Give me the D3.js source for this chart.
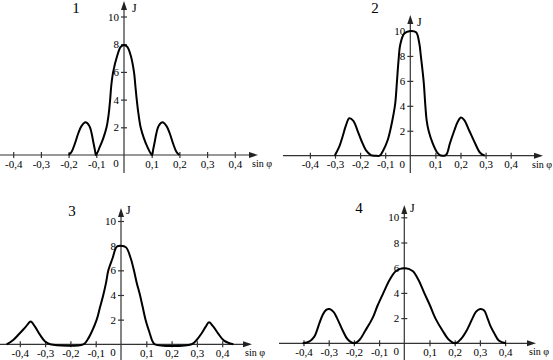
<!DOCTYPE html>
<meta charset="utf-8">
<style>
  body { margin: 0; background: #fff; }
  svg text { font-family: "Liberation Serif", "DejaVu Serif", serif; fill: #000; }
  .curve { fill: none; stroke: #000; stroke-width: 2px; stroke-linejoin: round; }
  .ax { stroke: #333; stroke-width: 1.2px; }
</style>
<body>
<script src="https://cdn.jsdelivr.net/npm/d3@7"></script>
<script>
// tick values shared by all four graphs
var xTicks = [-0.4, -0.3, -0.2, -0.1, 0.1, 0.2, 0.3, 0.4];
var yTicks = [2, 4, 6, 8, 10];
var panelNames = ["1", "2", "3", "4"];

// curve 1
var curve1X = [-0.2, -0.189, -0.177, -0.165, -0.153, -0.139, -0.125, -0.117, -0.111, -0.105, -0.101,
  -0.087, -0.075, -0.063, -0.055, -0.05, -0.046, -0.039, -0.024, -0.012, 0,
  0.012, 0.024, 0.036, 0.041, 0.046, 0.052, 0.06, 0.072, 0.084, 0.101,
  0.105, 0.111, 0.117, 0.125, 0.139, 0.153, 0.165, 0.177, 0.189, 0.2];
var curve1Y = [0, 0.24, 0.84, 1.57, 2.1, 2.36, 2.1, 1.57, 0.96, 0.36, 0,
  0.6, 1.2, 2.0, 3.0, 4.0, 5.0, 6.0, 7.2, 7.8, 7.95,
  7.8, 7.2, 6.0, 5.0, 4.0, 3.0, 2.0, 1.2, 0.6, 0,
  0.36, 0.96, 1.57, 2.1, 2.36, 2.1, 1.57, 0.84, 0.24, 0];

// curve 2
var curve2X = [-0.301, -0.283, -0.27, -0.256, -0.243, -0.227, -0.21, -0.193, -0.177, -0.157, -0.14, -0.122,
  -0.107, -0.09, -0.078, -0.068, -0.06, -0.053, -0.047, -0.04, -0.024, 0,
  0.023, 0.036, 0.042, 0.053, 0.06, 0.065, 0.073, 0.089, 0.105, 0.118, 0.129, 0.136,
  0.145, 0.158, 0.175, 0.189, 0.202, 0.215, 0.235, 0.258, 0.278, 0.297];
var curve2Y = [0, 0.72, 1.52, 2.46, 3.0, 2.8, 2.0, 1.12, 0.45, 0.05, 0, 0,
  0.46, 1.26, 2.2, 3.2, 4.2, 6.0, 7.6, 8.9, 9.8, 10.0,
  9.9, 9.0, 8.0, 6.0, 4.0, 2.86, 2.0, 1.0, 0.32, 0.05, 0, 0,
  0.13, 1.0, 2.0, 2.73, 3.07, 2.86, 2.0, 1.0, 0.24, 0];

// curve 3
var curve3X = [-0.452, -0.426, -0.4, -0.376, -0.357, -0.34, -0.32, -0.3, -0.28, -0.149,
  -0.133, -0.116, -0.096, -0.083, -0.07, -0.059, -0.05, -0.033, -0.017, 0,
  0.02, 0.038, 0.051, 0.062, 0.075, 0.086, 0.097, 0.112, 0.125, 0.134,
  0.279, 0.299, 0.319, 0.335, 0.348, 0.365, 0.385, 0.407, 0.444];
var curve3Y = [0, 0.35, 0.9, 1.43, 1.84, 1.43, 0.76, 0.22, 0, 0,
  0.35, 1, 2, 3, 4, 5, 6, 7, 7.92, 8,
  7.86, 7, 6, 5, 4, 3, 2, 1, 0.22, 0,
  0, 0.35, 0.9, 1.43, 1.78, 1.43, 0.84, 0.3, 0];

// curve 4
var curve4X = [-0.403, -0.376, -0.357, -0.347, -0.337, -0.324, -0.31, -0.297, -0.281, -0.267, -0.244, -0.225, -0.198,
  -0.178, -0.155, -0.126, -0.106, -0.083, -0.059, -0.033, 0,
  0.033, 0.057, 0.079, 0.102, 0.123, 0.152, 0.178, 0.202,
  0.224, 0.247, 0.271, 0.284, 0.301, 0.317, 0.33, 0.343, 0.357, 0.376, 0.403];
var curve4Y = [0, 0.16, 0.53, 1, 1.59, 2.25, 2.65, 2.72, 2.5, 2.0, 1, 0.32, 0,
  0.26, 1, 2, 3, 4, 5, 5.74, 5.95,
  5.74, 5, 4, 3, 2, 1, 0.26, 0,
  0.32, 1, 2, 2.5, 2.72, 2.6, 2, 1.32, 0.8, 0.2, 0];

var curvesX = [curve1X, curve2X, curve3X, curve4X];
var curvesY = [curve1Y, curve2Y, curve3Y, curve4Y];

// where each graph sits on the page (origin, px per unit, axis ends, label spots)
var layout = [
  {ox: 124,   oy: 155,   kx: 277, ky: 13.85, xa0: 0,   xa1: 258, ya0: 173, ya1: 1,   tx: 76,  ty: 13,  jx: 132, jy: 12, sx: 252},
  {ox: 410.3, oy: 155.7, kx: 251, ky: 12.47, xa0: 283, xa1: 543, ya0: 173, ya1: 15,  tx: 375, ty: 13,  jx: 417, jy: 26, sx: 532},
  {ox: 121,   oy: 344.3, kx: 253, ky: 12.33, xa0: 0,   xa1: 252, ya0: 360, ya1: 208, tx: 72,  ty: 216, jx: 126, jy: 214, sx: 245},
  {ox: 404.3, oy: 343.3, kx: 252, ky: 12.6,  xa0: 279, xa1: 536, ya0: 360, ya1: 205, tx: 359, ty: 213, jx: 410, jy: 212, sx: 529}
];

var svg = d3.select("body").append("svg")
    .attr("width", 553)
    .attr("height", 360);

var fmt = function (d) { return d.toFixed(1).replace(".", ","); };

layout.forEach(function (L, i) {
  var x = d3.scaleLinear().domain([0, 0.1]).range([L.ox, L.ox + L.kx * 0.1]);
  var y = d3.scaleLinear().domain([0, 10]).range([L.oy, L.oy - L.ky * 10]);
  var g = svg.append("g");

  // axis lines with arrows
  g.append("line").attr("class", "ax")
      .attr("x1", L.xa0).attr("x2", L.xa1 - 4)
      .attr("y1", L.oy).attr("y2", L.oy);
  g.append("path")
      .attr("d", "M" + L.xa1 + "," + L.oy + "l-9,-3l0,6z")
      .attr("fill", "#222");
  g.append("line").attr("class", "ax")
      .attr("x1", L.ox).attr("x2", L.ox)
      .attr("y1", L.ya0).attr("y2", L.ya1 + 4);
  g.append("path")
      .attr("d", "M" + L.ox + "," + L.ya1 + "l-3,9l6,0z")
      .attr("fill", "#222");

  // x axis ticks
  var xg = g.append("g")
      .attr("transform", "translate(0," + L.oy + ")")
      .call(d3.axisBottom(x).tickValues(xTicks).tickFormat(fmt).tickSize(3));
  xg.select(".domain").remove();
  xg.selectAll(".tick line").attr("y1", -3).attr("y2", 3).attr("stroke", "#333").attr("stroke-width", 1.2);
  xg.selectAll(".tick text").attr("y", 5).style("font-size", "11px");

  // y axis ticks
  var yg = g.append("g")
      .attr("transform", "translate(" + L.ox + ",0)")
      .call(d3.axisLeft(y).tickValues(yTicks).tickSize(3));
  yg.select(".domain").remove();
  yg.selectAll(".tick line").attr("x1", -3).attr("x2", 3).attr("stroke", "#333").attr("stroke-width", 1.2);
  yg.selectAll(".tick text").attr("x", -5).style("font-size", "11px");

  // origin, axis names, graph number
  g.append("text").attr("x", L.ox - 8).attr("y", L.oy + 12)
      .attr("text-anchor", "middle").style("font-size", "11px").text("0");
  g.append("text").attr("x", L.sx).attr("y", L.oy + 12)
      .style("font-size", "11px")
      .attr("textLength", 20).attr("lengthAdjust", "spacingAndGlyphs")
      .text("sin φ");
  g.append("text").attr("x", L.jx).attr("y", L.jy)
      .style("font-size", "12px").text("J");
  g.append("text").attr("x", L.tx).attr("y", L.ty)
      .attr("text-anchor", "middle").style("font-size", "15px").text(panelNames[i]);

  // the curve
  var pts = d3.zip(curvesX[i], curvesY[i]);
  var line = d3.line()
      .x(function (d) { return x(d[0]); })
      .y(function (d) { return y(Math.max(0, d[1])); })
      .curve(d3.curveCatmullRom.alpha(0.5));
  g.append("path")
      .datum(pts)
      .attr("class", "curve")
      .attr("d", line);
});
</script>
</body>
